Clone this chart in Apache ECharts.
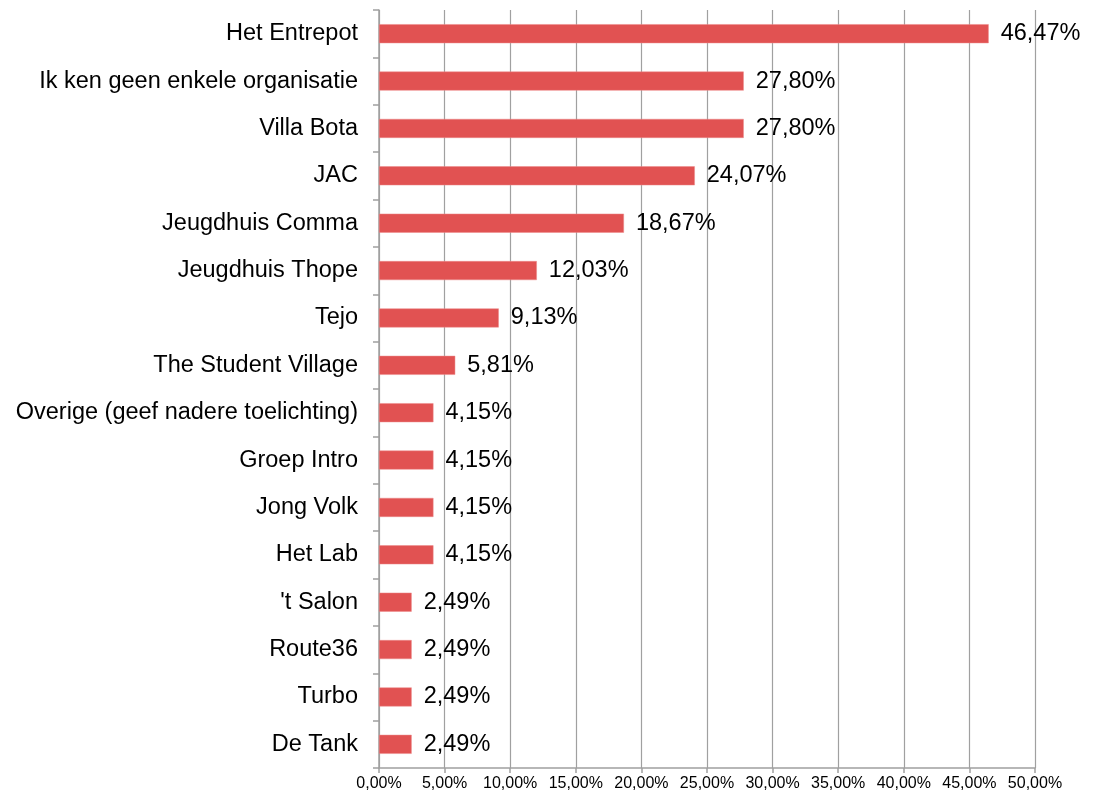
<!DOCTYPE html>
<html>
<head>
<meta charset="utf-8">
<script src="https://cdn.jsdelivr.net/npm/echarts@6/dist/echarts.min.js"></script>
<style>
  html, body { margin: 0; padding: 0; background: #fff; }
  #chart { width: 1101px; height: 796px; }
</style>
</head>
<body>
<div id="chart"></div>
<script>
// categories from top to bottom
var categories = [
  'Het Entrepot', 'Ik ken geen enkele organisatie', 'Villa Bota', 'JAC',
  'Jeugdhuis Comma', 'Jeugdhuis Thope', 'Tejo', 'The Student Village',
  'Overige (geef nadere toelichting)', 'Groep Intro', 'Jong Volk', 'Het Lab',
  "'t Salon", 'Route36', 'Turbo', 'De Tank'
];
var percentages = [46.47, 27.80, 27.80, 24.07, 18.67, 12.03, 9.13, 5.81,
  4.15, 4.15, 4.15, 4.15, 2.49, 2.49, 2.49, 2.49];

function fmt(v) {
  return v.toFixed(2).replace('.', ',') + '%';
}

var myChart = echarts.init(document.getElementById('chart'));
var option = {
  animation: false,
  textStyle: { fontFamily: 'Liberation Sans, Arial, sans-serif' },
  grid: { left: 379, right: 66, top: 10, bottom: 28 },
  xAxis: {
    type: 'value',
    min: 0,
    max: 50,
    interval: 5,
    axisLine: { show: true, lineStyle: { color: '#a0a0a0', width: 1.5 } },
    axisTick: { show: true, length: 5, lineStyle: { color: '#a0a0a0', width: 1.5 } },
    splitLine: { show: true, lineStyle: { color: '#a0a0a0', width: 1.2 } },
    axisLabel: {
      color: '#000',
      fontSize: 16,
      margin: 8,
      formatter: function (v) { return fmt(v); }
    }
  },
  yAxis: {
    type: 'category',
    inverse: true,
    data: categories,
    axisLine: { show: true, lineStyle: { color: '#a0a0a0', width: 1.5 } },
    axisTick: { show: true, length: 6, lineStyle: { color: '#a0a0a0', width: 1.5 } },
    axisLabel: { color: '#000', fontSize: 23.5, margin: 21 }
  },
  series: [{
    type: 'bar',
    data: percentages,
    barWidth: 19,
    itemStyle: { color: '#e15252', borderColor: '#ec8a8a', borderWidth: 0.5 },
    label: {
      show: true,
      position: 'right',
      distance: 12,
      color: '#000',
      fontSize: 23.5,
      formatter: function (p) { return fmt(p.value); }
    }
  }]
};
myChart.setOption(option);
</script>
</body>
</html>
